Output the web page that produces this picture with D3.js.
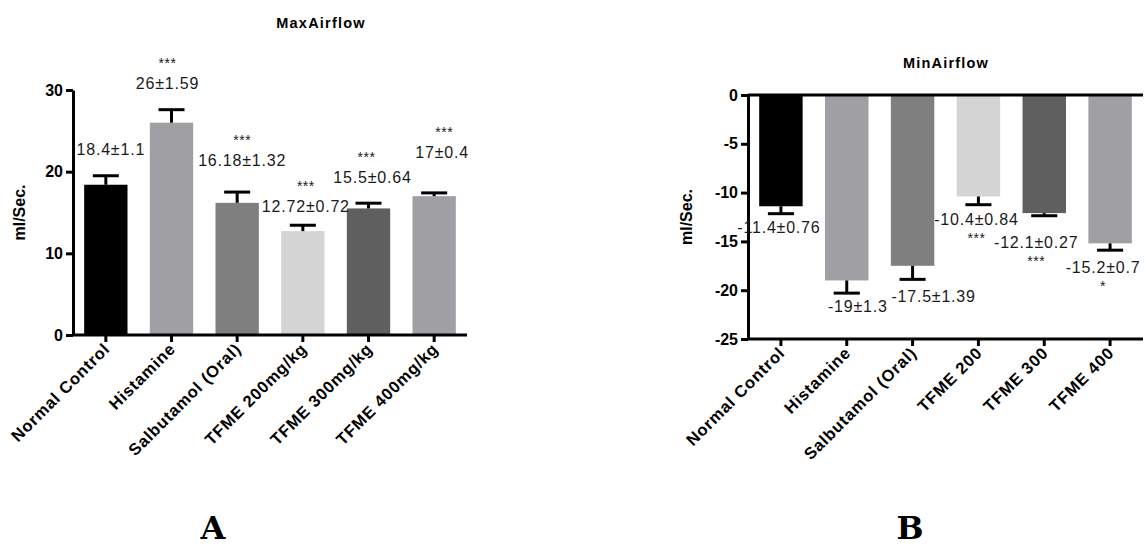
<!DOCTYPE html>
<html>
<head>
<meta charset="utf-8">
<script src="https://cdn.jsdelivr.net/npm/d3@7"></script>
<style>
  html, body { margin: 0; padding: 0; background: #fff; }
  svg { display: block; font-family: "Liberation Sans", Arial, sans-serif; }
  .axis path, .axis line { stroke: #000; stroke-width: 3; }
  .axis text { font-weight: bold; fill: #000; }
</style>
</head>
<body>
<svg id="fig" width="1146" height="548"></svg>
<script>
// ---- data: panel A (maximum airflow) ----
const maxCategories = ["Normal Control", "Histamine", "Salbutamol (Oral)", "TFME 200mg/kg", "TFME 300mg/kg", "TFME 400mg/kg"];
const maxMeans = [18.4, 26, 16.18, 12.72, 15.5, 17];
const maxSEM = [1.1, 1.59, 1.32, 0.72, 0.64, 0.4];
const maxStars = ["", "***", "***", "***", "***", "***"];
const maxTicks = [0, 10, 20, 30];

// ---- data: panel B (minimum airflow) ----
const minCategories = ["Normal Control", "Histamine", "Salbutamol (Oral)", "TFME 200", "TFME 300", "TFME 400"];
const minMeans = [-11.4, -19, -17.5, -10.4, -12.1, -15.2];
const minSEM = [0.76, 1.3, 1.39, 0.84, 0.27, 0.7];
const minStars = ["", "", "", "***", "***", "*"];
const minTicks = [0, -5, -10, -15, -20, -25];

const barFills = ["#000000", "#a0a0a4", "#7f7f7f", "#d4d4d4", "#5f5f5f", "#a0a0a4"];

// ---- layout ----
const panels = [
  {
    title: "MaxAirflow", titleX: 321, titleY: 28, letter: "A", letterX: 213, yLabelGap: 48,
    cats: maxCategories, means: maxMeans, sem: maxSEM, stars: maxStars, ticks: maxTicks,
    domain: [0, 30], left: 73, right: 467, top: 90, bottom: 335, baseLineAtTop: false,
    // [dx, dy] of each value label from the error-bar end
    nudges: [[5, -21], [-4, -21], [5, -26], [3, -13], [4, -20], [8, -35]],
    starDy: -21, starDx: [0, 0, 0, 0, -6, 2]
  },
  {
    title: "MinAirflow", titleX: 946, titleY: 68, letter: "B", letterX: 910, yLabelGap: 56,
    cats: minCategories, means: minMeans, sem: minSEM, stars: minStars, ticks: minTicks,
    domain: [-25, 0], left: 748, right: 1143, top: 95, bottom: 339, baseLineAtTop: true,
    nudges: [[-2, 19], [11, 19], [21, 23], [-2, 20], [-8, 32], [-7, 23]],
    starDy: 18, starDx: [0, 0, 0, 0, 0, 0]
  }
];

const svg = d3.select("#fig");

panels.forEach(p => {
  const g = svg.append("g");
  const idx = d3.range(p.cats.length);

  const x = d3.scaleBand().domain(idx).range([p.left, p.right])
    .paddingInner(0.34).paddingOuter(0.17);
  const y = d3.scaleLinear().domain(p.domain).range([p.bottom, p.top]);
  const zero = y(0);

  // bars
  g.selectAll("rect.bar").data(idx).enter().append("rect")
    .attr("class", "bar")
    .attr("x", i => x(i))
    .attr("width", x.bandwidth())
    .attr("y", i => Math.min(y(p.means[i]), zero))
    .attr("height", i => Math.abs(y(p.means[i]) - zero))
    .attr("fill", i => barFills[i]);

  // error bars (outward side only)
  const capW = x.bandwidth() * 0.6;
  const errEnd = i => p.means[i] >= 0 ? p.means[i] + p.sem[i] : p.means[i] - p.sem[i];
  const eg = g.selectAll("g.err").data(idx).enter().append("g").attr("class", "err")
    .attr("stroke", "#000").attr("stroke-width", 3);
  eg.append("line")
    .attr("x1", i => x(i) + x.bandwidth() / 2).attr("x2", i => x(i) + x.bandwidth() / 2)
    .attr("y1", i => y(p.means[i])).attr("y2", i => y(errEnd(i)));
  eg.append("line")
    .attr("x1", i => x(i) + x.bandwidth() / 2 - capW / 2).attr("x2", i => x(i) + x.bandwidth() / 2 + capW / 2)
    .attr("y1", i => y(errEnd(i))).attr("y2", i => y(errEnd(i)));

  // axes
  const yAxis = d3.axisLeft(y).tickValues(p.ticks).tickSize(7).tickSizeOuter(0).tickPadding(3)
    .tickFormat(d => String(d));
  g.append("g").attr("class", "axis").attr("transform", `translate(${p.left},0)`).call(yAxis)
    .selectAll("text").style("font-size", "16px");

  const xAxis = d3.axisBottom(x).tickSize(7).tickSizeOuter(0).tickFormat(i => p.cats[i]);
  const xg = g.append("g").attr("class", "axis").attr("transform", `translate(0,${p.bottom})`).call(xAxis);
  xg.select(".domain").attr("d", `M${p.left},0H${p.right}`);
  xg.selectAll("text")
    .style("font-size", "16.5px").style("letter-spacing", "0.8px")
    .attr("text-anchor", "end")
    .attr("y", 0).attr("dy", 0)
    .attr("transform", "translate(5,15) rotate(-45)");

  if (p.baseLineAtTop) {
    g.append("line").attr("x1", p.left).attr("x2", p.right)
      .attr("y1", zero).attr("y2", zero)
      .attr("stroke", "#000").attr("stroke-width", 3);
  }

  // value labels
  g.selectAll("text.val").data(idx).enter().append("text")
    .attr("class", "val")
    .attr("x", i => x(i) + x.bandwidth() / 2 + p.nudges[i][0])
    .attr("y", i => y(errEnd(i)) + p.nudges[i][1])
    .attr("text-anchor", "middle")
    .style("font-size", "16px").style("letter-spacing", "0.8px")
    .attr("fill", "#1a1a1a")
    .text(i => `${p.means[i]}±${p.sem[i]}`);

  // significance marks
  g.selectAll("text.sig").data(idx.filter(i => p.stars[i])).enter().append("text")
    .attr("class", "sig")
    .attr("x", i => x(i) + x.bandwidth() / 2 + p.nudges[i][0] + p.starDx[i])
    .attr("y", i => y(errEnd(i)) + p.nudges[i][1] + p.starDy)
    .attr("text-anchor", "middle")
    .style("font-size", "14px").style("letter-spacing", "0.5px")
    .attr("fill", "#1a1a1a")
    .text(i => p.stars[i]);

  // title
  g.append("text").attr("x", p.titleX).attr("y", p.titleY)
    .attr("text-anchor", "middle")
    .style("font-size", "14.5px").style("font-weight", "bold").style("letter-spacing", "1.2px")
    .text(p.title);

  // y-axis label
  g.append("text")
    .attr("transform", `translate(${p.left - p.yLabelGap},${(p.top + p.bottom) / 2}) rotate(-90)`)
    .attr("text-anchor", "middle")
    .style("font-size", "16px").style("font-weight", "bold")
    .text("ml/Sec.");

  // panel letter
  g.append("text").attr("x", p.letterX).attr("y", 539)
    .attr("text-anchor", "middle")
    .style("font-family", "'DejaVu Serif', serif").style("font-weight", "bold").style("font-size", "32px")
    .text(p.letter);
});
</script>
</body>
</html>
